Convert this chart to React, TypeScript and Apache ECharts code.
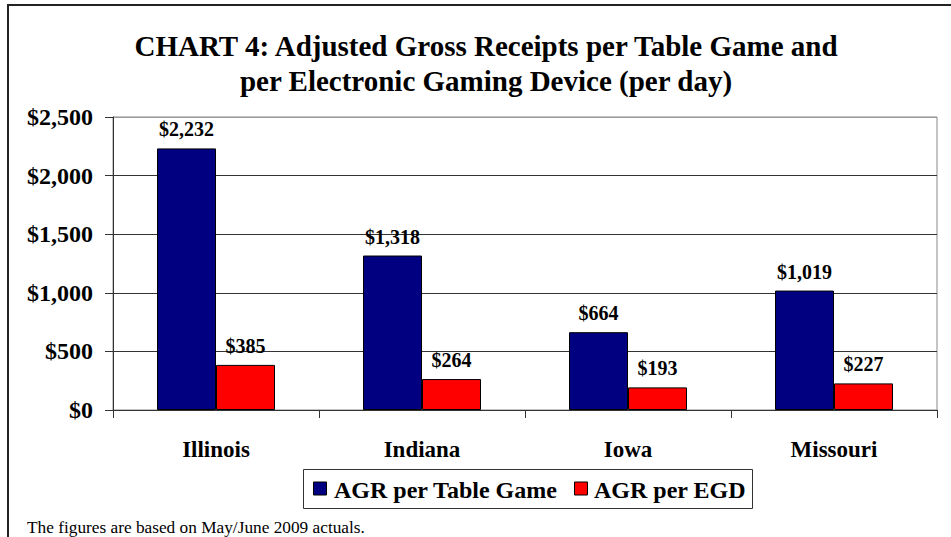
import React, { useEffect, useRef } from "react";
import * as echarts from "echarts";

const categories = ["Illinois", "Indiana", "Iowa", "Missouri"];
const tableGameValues = [2232, 1318, 664, 1019];
const egdValues = [385, 264, 193, 227];
const seriesNames = ["AGR per Table Game", "AGR per EGD"];
const seriesColors = ["#000080", "#ff0000"];
const yTicks = { min: 0, max: 2500, interval: 500 };
const titleLines = [
  "CHART 4: Adjusted Gross Receipts per Table Game and",
  "per Electronic Gaming Device (per day)",
];
const footnote = "The figures are based on May/June 2009 actuals.";

const SERIF = "Liberation Serif";

const money = (v: number) => "$" + v.toLocaleString("en-US");

export default function App() {
  const ref = useRef<HTMLDivElement>(null);
  useEffect(() => {
    if (!ref.current) return;
    const chart = echarts.init(ref.current, undefined, { renderer: "svg" });
    const labelStyle = {
      show: true,
      position: "top" as const,
      distance: 9,
      formatter: (p: any) => money(p.value),
      fontFamily: SERIF,
      fontWeight: "bold" as const,
      fontSize: 20,
      color: "#000",
    };
    const legendY = 488.5;
    const legendItems = [
      { iconX: 313, textX: 334 },
      { iconX: 574, textX: 594 },
    ];
    const legendGraphics: any[] = [
      {
        type: "rect",
        shape: { x: 303.5, y: 469.5, width: 449, height: 39 },
        style: { fill: "#fff", stroke: "#333", lineWidth: 1 },
        silent: true,
      },
    ];
    seriesNames.forEach((name, i) => {
      legendGraphics.push({
        type: "rect",
        shape: { x: legendItems[i].iconX + 0.5, y: legendY - 6.5, width: 13, height: 13 },
        style: { fill: seriesColors[i], stroke: "#000", lineWidth: 1 },
        silent: true,
      });
      legendGraphics.push({
        type: "text",
        x: legendItems[i].textX,
        y: legendY + 1,
        style: {
          text: name,
          textAlign: "left",
          textVerticalAlign: "middle",
          fontFamily: SERIF,
          fontWeight: "bold",
          fontSize: 24,
          fill: "#000",
        },
        silent: true,
      });
    });
    chart.setOption({
      animation: false,
      backgroundColor: "#fff",
      textStyle: { fontFamily: SERIF },
      graphic: [
        {
          type: "rect",
          shape: { x: 8, y: 5, width: 980, height: 600 },
          style: { fill: "none", stroke: "#222", lineWidth: 2 },
          silent: true,
        },
        {
          type: "text",
          x: 486,
          y: 46,
          style: {
            text: titleLines[0],
            textAlign: "center",
            textVerticalAlign: "middle",
            fontFamily: SERIF,
            fontWeight: "bold",
            fontSize: 29,
            fill: "#000",
          },
        },
        {
          type: "text",
          x: 486,
          y: 81,
          style: {
            text: titleLines[1],
            textAlign: "center",
            textVerticalAlign: "middle",
            fontFamily: SERIF,
            fontWeight: "bold",
            fontSize: 29,
            fill: "#000",
          },
        },
        {
          type: "text",
          x: 27,
          y: 527,
          style: {
            text: footnote,
            textAlign: "left",
            textVerticalAlign: "middle",
            fontFamily: SERIF,
            fontSize: 17.3,
            fill: "#000",
          },
        },
        ...legendGraphics,
      ],
      grid: {
        left: 113,
        right: 14,
        top: 117,
        bottom: 127,
        show: true,
        borderColor: "#888",
        borderWidth: 1,
        containLabel: false,
      },
      legend: { show: false, data: seriesNames },
      xAxis: {
        type: "category",
        data: categories,
        axisLine: { lineStyle: { color: "#333", width: 1 } },
        axisTick: { show: true, length: 8, inside: false, lineStyle: { color: "#333" } },
        axisLabel: {
          margin: 28,
          fontFamily: SERIF,
          fontWeight: "bold",
          fontSize: 23,
          color: "#000",
        },
      },
      yAxis: {
        type: "value",
        min: yTicks.min,
        max: yTicks.max,
        interval: yTicks.interval,
        axisLine: { show: true, lineStyle: { color: "#333", width: 1 } },
        axisTick: { show: true, length: 8, inside: false, lineStyle: { color: "#333" } },
        splitLine: {
          show: true,
          lineStyle: { color: ["#333", "#333", "#333", "#333", "#333", "#999"], width: 1 },
        },
        axisLabel: {
          margin: 20,
          formatter: (v: number) => money(v),
          fontFamily: SERIF,
          fontWeight: "bold",
          fontSize: 24,
          color: "#000",
        },
      },
      series: [
        {
          name: seriesNames[0],
          type: "bar",
          data: tableGameValues,
          barWidth: 59,
          barGap: "0%",
          itemStyle: { color: seriesColors[0], borderColor: "#000", borderWidth: 1 },
          label: labelStyle,
        },
        {
          name: seriesNames[1],
          type: "bar",
          data: egdValues,
          barWidth: 59,
          barGap: "0%",
          itemStyle: { color: seriesColors[1], borderColor: "#000", borderWidth: 1 },
          label: labelStyle,
        },
      ],
    });
    return () => chart.dispose();
  }, []);
  return (
    <div
      ref={ref}
      style={{ position: "fixed", left: 0, top: 0, width: 951, height: 537 }}
    />
  );
}
